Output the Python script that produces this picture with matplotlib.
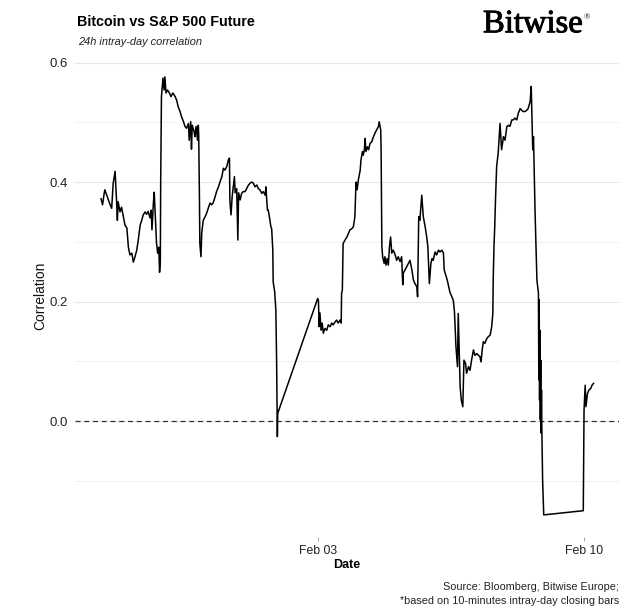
import numpy as np
import pandas as pd
import matplotlib
matplotlib.use("Agg")
import matplotlib.pyplot as plt
import matplotlib.dates as mdates
import matplotlib.patheffects as pe

plt.rcParams['font.family'] = ['Liberation Sans', 'DejaVu Sans']

# days relative to Feb 03 00:00
days = [
    -5.71, -5.67, -5.63, -5.61, -5.56, -5.53, -5.47, -5.43, -5.39, -5.34,
    -5.30, -5.28, -5.26, -5.21, -5.17, -5.12, -5.08, -5.03, -4.99, -4.95,
    -4.90, -4.86, -4.82, -4.77, -4.73, -4.68, -4.64, -4.60, -4.55, -4.51,
    -4.47, -4.42, -4.39, -4.37, -4.33, -4.31, -4.28, -4.25, -4.22, -4.19,
    -4.17, -4.15, -4.14, -4.12, -4.08, -4.05, -4.03, -4.00, -3.96, -3.91,
    -3.87, -3.82, -3.76, -3.72, -3.68, -3.63, -3.59, -3.54, -3.50, -3.46,
    -3.41, -3.39, -3.35, -3.33, -3.31, -3.26, -3.24, -3.21, -3.17, -3.15,
    -3.14, -3.12, -3.11, -3.08, -3.06, -3.02, -2.97, -2.93, -2.89, -2.84,
    -2.80, -2.76, -2.71, -2.67, -2.62, -2.58, -2.53, -2.49, -2.45, -2.40,
    -2.36, -2.33, -2.32, -2.29, -2.26, -2.23, -2.20, -2.18, -2.14, -2.11,
    -2.09, -2.05, -2.01, -1.97, -1.92, -1.88, -1.83, -1.79, -1.74, -1.70,
    -1.66, -1.61, -1.57, -1.53, -1.48, -1.44, -1.39, -1.37, -1.35, -1.33,
    -1.31, -1.28, -1.24, -1.22, -1.19, -1.18, -1.14, -1.11, -1.09, -1.07,
    -1.06,
    -0.01, 0.01, 0.03, 0.05, 0.08, 0.11, 0.14, 0.18, 0.23, 0.27,
    0.32, 0.36, 0.40, 0.45, 0.49, 0.53, 0.58, 0.61, 0.62, 0.64,
    0.66, 0.71, 0.76, 0.80, 0.84, 0.89, 0.93, 0.97, 1.00, 1.03,
    1.06, 1.11, 1.13, 1.17, 1.19, 1.22, 1.24, 1.26, 1.30, 1.33,
    1.37, 1.41, 1.46, 1.50, 1.54, 1.59, 1.61, 1.65, 1.66, 1.68,
    1.70, 1.74, 1.76, 1.79, 1.82, 1.85, 1.88, 1.91, 1.94, 1.98,
    2.03, 2.07, 2.11, 2.16, 2.20, 2.23, 2.24, 2.29, 2.33, 2.38,
    2.42, 2.47, 2.51, 2.55, 2.60, 2.62, 2.65, 2.68, 2.73, 2.77,
    2.82, 2.86, 2.89, 2.93, 2.97, 3.00, 3.03, 3.08, 3.12, 3.17,
    3.21, 3.26, 3.30, 3.32, 3.37, 3.40, 3.44, 3.47, 3.52, 3.56,
    3.59, 3.63, 3.67, 3.69, 3.72, 3.74, 3.77, 3.81, 3.84, 3.88,
    3.91, 3.96, 4.00, 4.04, 4.09, 4.13, 4.18, 4.22, 4.26, 4.29,
    4.32, 4.35, 4.39, 4.44, 4.48, 4.53, 4.57, 4.60, 4.61, 4.63,
    4.65, 4.67, 4.70, 4.74, 4.79, 4.83, 4.88, 4.92, 4.97, 5.01,
    5.05, 5.10, 5.14, 5.18, 5.23, 5.27, 5.32, 5.36, 5.40, 5.45,
    5.49, 5.53, 5.58, 5.61, 5.63, 5.65, 5.67, 5.71, 5.76, 5.80,
    5.81, 5.82, 5.83, 5.84, 5.85, 5.86, 5.87, 5.88, 5.89, 5.91,
    5.94,
    6.98, 7.00, 7.03, 7.05, 7.09, 7.13, 7.18, 7.21, 7.25,
]

corr = [
    0.372, 0.362, 0.380, 0.387, 0.378, 0.373, 0.362, 0.356, 0.398, 0.418,
    0.367, 0.336, 0.367, 0.350, 0.358, 0.341, 0.328, 0.323, 0.291, 0.278,
    0.281, 0.266, 0.274, 0.286, 0.303, 0.328, 0.336, 0.345, 0.350, 0.346,
    0.351, 0.340, 0.353, 0.320, 0.367, 0.383, 0.341, 0.298, 0.281, 0.291,
    0.249, 0.266, 0.403, 0.543, 0.574, 0.554, 0.576, 0.549, 0.554, 0.549,
    0.543, 0.549, 0.543, 0.537, 0.526, 0.518, 0.509, 0.501, 0.493, 0.490,
    0.498, 0.470, 0.501, 0.455, 0.495, 0.484, 0.476, 0.493, 0.470, 0.495,
    0.479, 0.370, 0.298, 0.275, 0.315, 0.336, 0.342, 0.348, 0.356, 0.365,
    0.362, 0.365, 0.375, 0.384, 0.392, 0.400, 0.409, 0.423, 0.420, 0.426,
    0.437, 0.440, 0.370, 0.345, 0.375, 0.392, 0.409, 0.382, 0.389, 0.303,
    0.382, 0.370, 0.381, 0.384, 0.384, 0.389, 0.395, 0.398, 0.400, 0.398,
    0.392, 0.395, 0.389, 0.387, 0.381, 0.384, 0.378, 0.392, 0.370, 0.353,
    0.353, 0.342, 0.325, 0.322, 0.286, 0.233, 0.216, 0.186, 0.102, -0.026,
    0.013,
    0.205, 0.202, 0.158, 0.181, 0.152, 0.164, 0.147, 0.155, 0.152, 0.161,
    0.158, 0.164, 0.161, 0.166, 0.169, 0.164, 0.169, 0.164, 0.214, 0.219,
    0.297, 0.303, 0.308, 0.314, 0.320, 0.322, 0.325, 0.342, 0.400, 0.387,
    0.403, 0.420, 0.437, 0.451, 0.445, 0.454, 0.473, 0.451, 0.459, 0.454,
    0.465, 0.467, 0.476, 0.482, 0.487, 0.493, 0.501, 0.487, 0.454, 0.292,
    0.275, 0.264, 0.275, 0.261, 0.272, 0.261, 0.292, 0.308, 0.281, 0.286,
    0.278, 0.269, 0.275, 0.267, 0.275, 0.228, 0.247, 0.253, 0.258, 0.264,
    0.269, 0.253, 0.236, 0.230, 0.225, 0.208, 0.342, 0.336, 0.378, 0.342,
    0.325, 0.308, 0.292, 0.230, 0.264, 0.272, 0.269, 0.283, 0.278, 0.286,
    0.283, 0.286, 0.281, 0.253, 0.242, 0.236, 0.225, 0.216, 0.208, 0.202,
    0.183, 0.124, 0.091, 0.180, 0.102, 0.057, 0.035, 0.024, 0.102, 0.097,
    0.080, 0.091, 0.085, 0.102, 0.119, 0.110, 0.113, 0.110, 0.108, 0.099,
    0.119, 0.133, 0.130, 0.138, 0.141, 0.144, 0.158, 0.180, 0.236, 0.292,
    0.325, 0.370, 0.426, 0.448, 0.498, 0.454, 0.476, 0.470, 0.493, 0.495,
    0.493, 0.504, 0.504, 0.507, 0.504, 0.515, 0.523, 0.520, 0.518, 0.518,
    0.520, 0.523, 0.534, 0.560, 0.509, 0.454, 0.476, 0.353, 0.236, 0.214,
    0.069, 0.203, 0.035, 0.152, 0.002, 0.102, -0.020, 0.052, -0.015, -0.099,
    -0.157,
    -0.150, 0.018, 0.060, 0.024, 0.046, 0.052, 0.055, 0.060, 0.063,
]

base = pd.Timestamp("2025-02-03")
times = base + pd.to_timedelta(days, unit="D")
tick_dates = [pd.Timestamp("2025-02-03"), pd.Timestamp("2025-02-10")]

fig = plt.figure(figsize=(6.27, 6.14), dpi=100)
ax = fig.add_axes([75 / 627, 1 - 537 / 614, 544 / 627, 482 / 614])

ax.plot(times, corr, color="black", lw=1.1, zorder=3)
ax.axhline(0, color="#333333", lw=0.9, ls=(0, (4, 3)), zorder=2)

ax.set_xlim(base + pd.Timedelta(days=-6.395), base + pd.Timedelta(days=7.92))
ax.set_ylim(-0.194, 0.6126)

ax.set_yticks([0.0, 0.2, 0.4, 0.6])
ax.set_yticks([-0.1, 0.1, 0.3, 0.5], minor=True)
ax.yaxis.set_major_formatter(matplotlib.ticker.FormatStrFormatter("%.1f"))
ax.set_xticks(tick_dates)
ax.xaxis.set_major_formatter(mdates.DateFormatter("%b %d"))

ax.grid(axis="y", which="major", color="#e6e6e6", lw=0.8)
ax.grid(axis="y", which="minor", color="#efefef", lw=0.6)
ax.set_axisbelow(True)
for s in ax.spines.values():
    s.set_visible(False)

ax.tick_params(axis="y", which="both", length=0, labelsize=9.5,
               labelcolor="#222222", pad=5)
ax.tick_params(axis="x", length=3, color="#999999", width=0.6,
               labelsize=8.8, labelcolor="#222222", pad=3)

ax.set_ylabel("Correlation", fontsize=10, color="#111111", labelpad=2)
ax.set_xlabel("Date", fontsize=9, fontweight="bold", labelpad=1)

fig.text(77 / 627, 1 - 22 / 614, "Bitcoin vs S&P 500 Future", fontsize=10.3,
         fontweight="bold", ha="left", va="center")
fig.text(78 / 627, 1 - 42 / 614, "24h intray-day correlation", fontsize=7.9,
         style="italic", ha="left", va="center", color="#222222")
fig.text(583 / 627, 1 - 24 / 614, "Bitwise", fontsize=23.5,
         family="Liberation Serif", ha="right", va="center",
         path_effects=[pe.withStroke(linewidth=0.7, foreground="black")])
fig.text(584 / 627, 1 - 17 / 614, "\u00ae", fontsize=6,
         family="Liberation Serif", ha="left", va="center")

fig.text(619 / 627, 1 - 587 / 614, "Source: Bloomberg, Bitwise Europe;",
         fontsize=7.8, ha="right", va="center", color="#222222")
fig.text(619 / 627, 1 - 601 / 614, "*based on 10-minutes intray-day closing bars",
         fontsize=7.8, ha="right", va="center", color="#222222")

fig.savefig("out.png", dpi=100)
